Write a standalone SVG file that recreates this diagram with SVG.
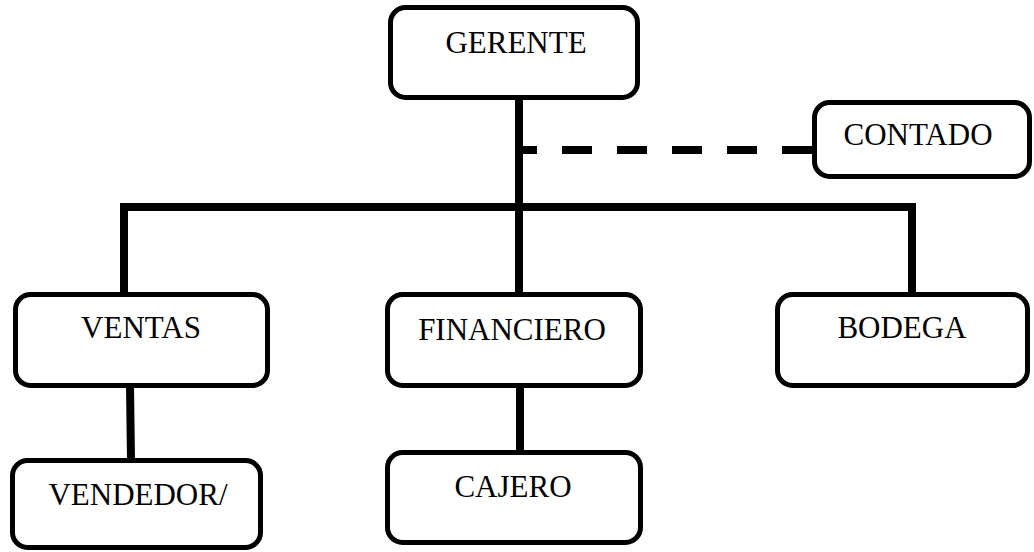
<svg xmlns="http://www.w3.org/2000/svg" width="1034" height="552" viewBox="0 0 1034 552">
<style>
.box{fill:#fff;stroke:#000;stroke-width:5}
.lbl{font-family:"Liberation Serif",serif;font-size:31px;fill:#000;text-anchor:middle}
.ln{stroke:#000;stroke-width:8;fill:none;stroke-linecap:butt}
.dash{stroke:#000;stroke-width:8;fill:none;stroke-dasharray:30 25;stroke-dashoffset:15}
</style>
<rect width="1034" height="552" fill="#fff"/>
<g id="connectors">
<line class="ln" x1="519" y1="98" x2="519" y2="294"/>
<polyline class="ln" points="124,294 124,207 912,207 912,294"/>
<line class="ln" x1="130" y1="386" x2="131" y2="460"/>
<line class="ln" x1="520" y1="386" x2="520" y2="452"/>
<line class="dash" x1="522" y1="150" x2="814" y2="150"/>
</g>
<g id="gerente"><rect class="box" x="390.5" y="7.5" width="247" height="90" rx="15"/><text class="lbl" x="516" y="53">GERENTE</text></g>
<g id="contado"><rect class="box" x="814.5" y="102.5" width="215" height="74" rx="15"/><text class="lbl" x="918" y="145">CONTADO</text></g>
<g id="ventas"><rect class="box" x="15.5" y="294.5" width="252" height="91" rx="15"/><text class="lbl" x="141" y="338">VENTAS</text></g>
<g id="financiero"><rect class="box" x="387.5" y="294.5" width="253" height="91" rx="15"/><text class="lbl" x="512" y="340">FINANCIERO</text></g>
<g id="bodega"><rect class="box" x="777.5" y="294.5" width="250" height="91" rx="15"/><text class="lbl" x="902" y="338">BODEGA</text></g>
<g id="vendedor"><rect class="box" x="12.5" y="460.5" width="248" height="87" rx="15"/><text class="lbl" x="138" y="505">VENDEDOR/</text></g>
<g id="cajero"><rect class="box" x="387.5" y="452.5" width="253" height="90" rx="15"/><text class="lbl" x="513" y="497">CAJERO</text></g>
</svg>
